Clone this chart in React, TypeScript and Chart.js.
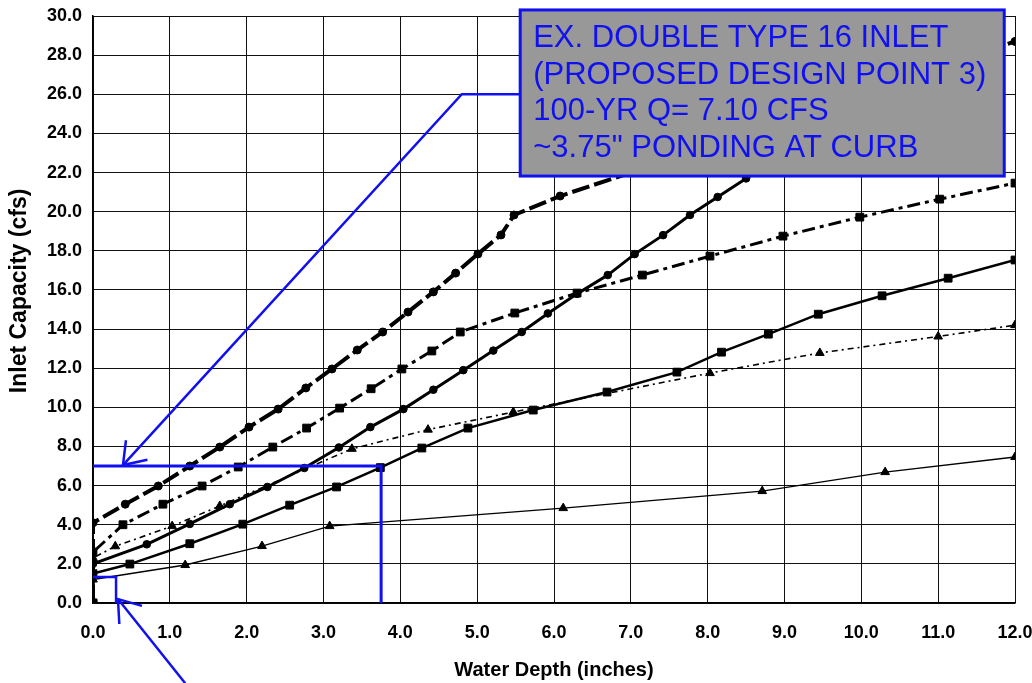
import { useEffect, useRef } from 'react';
import { Chart, registerables } from 'chart.js';

Chart.register(...registerables);

// ---------- data (water depth in inches, inlet capacity in cfs) ----------
const depthA = [0, 0, 0.42, 0.85, 1.26, 1.65, 2.03, 2.41, 2.77, 3.11, 3.44, 3.77, 4.1, 4.43, 4.72, 5.01, 5.31, 5.48, 6.08, 7.0, 8.0, 9.0, 10.0, 11.0, 12.0];
const capA = [0, 4.1, 5.05, 5.98, 7.0, 7.97, 8.99, 9.91, 10.99, 11.96, 12.93, 13.85, 14.87, 15.9, 16.86, 17.84, 18.81, 19.83, 20.8, 22.0, 23.35, 24.7, 26.0, 27.35, 28.7];

const depthB = [0, 0, 0.7, 1.26, 1.78, 2.27, 2.75, 3.2, 3.61, 4.04, 4.43, 4.82, 5.21, 5.58, 5.92, 6.3, 6.7, 7.05, 7.42, 7.77, 8.13, 8.5, 9.0, 9.5, 10.0, 10.5, 11.0, 11.5, 11.8];
const capB = [0, 2.0, 3.0, 4.04, 5.05, 5.93, 6.9, 7.95, 8.99, 9.91, 10.9, 11.9, 12.9, 13.85, 14.8, 15.8, 16.76, 17.83, 18.8, 19.83, 20.75, 21.7, 22.9, 24.1, 25.3, 26.5, 27.8, 29.1, 29.9];

const depthC = [0, 0, 0.39, 0.91, 1.42, 1.89, 2.34, 2.78, 3.21, 3.62, 4.02, 4.41, 4.78, 5.49, 6.3, 7.15, 8.03, 8.98, 9.98, 11.02, 12.0];
const capC = [0, 2.6, 4.0, 5.05, 5.98, 6.95, 7.97, 8.94, 9.96, 10.95, 11.96, 12.88, 13.85, 14.82, 15.84, 16.76, 17.73, 18.75, 19.72, 20.64, 21.46];

const depthD = [0, 0, 0.29, 1.03, 1.65, 3.37, 4.36, 5.47, 8.03, 9.46, 11.0, 12.0];
const capD = [0, 2.3, 2.9, 3.93, 4.96, 7.88, 8.86, 9.76, 11.75, 12.78, 13.62, 14.2];

const depthE = [0, 0, 0.48, 1.26, 1.95, 2.56, 3.17, 3.74, 4.28, 4.88, 5.73, 6.69, 7.6, 8.18, 8.79, 9.44, 10.27, 11.13, 12.0];
const capE = [0, 1.5, 1.99, 3.03, 4.03, 5.0, 5.93, 6.92, 7.92, 8.94, 9.86, 10.78, 11.8, 12.82, 13.74, 14.76, 15.7, 16.6, 17.53];

const depthF = [0, 0, 1.2, 2.2, 3.08, 6.12, 8.71, 10.31, 12.0];
const capF = [0, 1.2, 1.94, 2.91, 3.93, 4.85, 5.72, 6.69, 7.46];

const xTickValues = [0, 1, 2, 3, 4, 5, 6, 7, 8, 9, 10, 11, 12];
const yTickValues = [0, 2, 4, 6, 8, 10, 12, 14, 16, 18, 20, 22, 24, 26, 28, 30];

const xTitle = 'Water Depth (inches)';
const yTitle = 'Inlet Capacity (cfs)';

// ---------- annotation (data coordinates) ----------
const designDepth = 3.75;
const designFlow = 7.0;
const smallDepth = 0.3;
const smallFlow = 1.33;
const noteLines = ['EX. DOUBLE TYPE 16 INLET', '(PROPOSED DESIGN POINT 3)', '100-YR Q= 7.10 CFS', '~3.75" PONDING AT CURB'];
const noteBoxX = [5.56, 11.86];
const noteBoxY = [21.82, 30.31];
const arrow1X = [5.56, 4.8, 0.39];
const arrow1Y = [26.0, 26.0, 7.05];
const arrow2X = [1.2, 0.325];
const arrow2Y = [-4.1, 0.2];
const yTitleCentre = 15.95;

const BLUE = '#1010F0';
const FONT = "'Liberation Sans', Arial, sans-serif";

const pts = (xs: number[], ys: number[]) => xs.map((x, i) => ({ x, y: ys[i] }));

const annotationPlugin = {
  id: 'annot',
  afterDatasetsDraw(chart: any) {
    const { ctx, scales } = chart;
    const sx = scales.x;
    const sy = scales.y;
    const px = (v: number) => sx.getPixelForValue(v);
    const py = (v: number) => sy.getPixelForValue(v);
    ctx.save();

    // y axis title
    ctx.save();
    ctx.translate(20, py(yTitleCentre));
    ctx.rotate(-Math.PI / 2);
    ctx.fillStyle = '#000';
    ctx.font = `bold 23px ${FONT}`;
    ctx.textAlign = 'center';
    ctx.textBaseline = 'middle';
    ctx.fillText(yTitle, 0, 0);
    ctx.restore();

    ctx.strokeStyle = BLUE;
    ctx.lineCap = 'butt';
    ctx.lineJoin = 'miter';

    // design point lines
    ctx.lineWidth = 3;
    ctx.beginPath();
    ctx.moveTo(px(0), py(designFlow));
    ctx.lineTo(px(designDepth), py(designFlow));
    ctx.lineTo(px(designDepth), py(0));
    ctx.stroke();

    // small bracket near origin
    ctx.lineWidth = 2.5;
    ctx.beginPath();
    ctx.moveTo(px(0), py(smallFlow));
    ctx.lineTo(px(smallDepth), py(smallFlow));
    ctx.lineTo(px(smallDepth), py(0));
    ctx.stroke();

    const drawArrow = (xs: number[], ys: number[]) => {
      ctx.lineWidth = 2.5;
      ctx.beginPath();
      ctx.moveTo(px(xs[0]), py(ys[0]));
      for (let i = 1; i < xs.length; i++) ctx.lineTo(px(xs[i]), py(ys[i]));
      ctx.stroke();
      const n = xs.length;
      const tx = px(xs[n - 1]);
      const ty = py(ys[n - 1]);
      const ang = Math.atan2(py(ys[n - 2]) - ty, px(xs[n - 2]) - tx);
      const L = 25;
      const spread = 0.62;
      ctx.beginPath();
      ctx.moveTo(tx + L * Math.cos(ang + spread), ty + L * Math.sin(ang + spread));
      ctx.lineTo(tx, ty);
      ctx.lineTo(tx + L * Math.cos(ang - spread), ty + L * Math.sin(ang - spread));
      ctx.stroke();
    };
    drawArrow(arrow1X, arrow1Y);
    drawArrow(arrow2X, arrow2Y);

    // note box
    const bx0 = px(noteBoxX[0]);
    const bx1 = px(noteBoxX[1]);
    const by0 = py(noteBoxY[1]);
    const by1 = py(noteBoxY[0]);
    ctx.fillStyle = '#989898';
    ctx.fillRect(bx0, by0, bx1 - bx0, by1 - by0);
    ctx.lineWidth = 3;
    ctx.strokeRect(bx0, by0, bx1 - bx0, by1 - by0);
    ctx.fillStyle = BLUE;
    ctx.font = `31px ${FONT}`;
    ctx.textAlign = 'left';
    ctx.textBaseline = 'alphabetic';
    noteLines.forEach((t, i) => {
      ctx.fillText(t, bx0 + 13, by0 + 37 + i * 36.7);
    });
    ctx.restore();
  },
};

export default function App() {
  const ref = useRef<HTMLCanvasElement | null>(null);

  useEffect(() => {
    document.body.style.margin = '0';
    const canvas = ref.current;
    if (!canvas) return;
    Chart.defaults.font.family = FONT;
    const common = {
      borderColor: '#000',
      backgroundColor: '#000',
      pointBackgroundColor: '#000',
      pointBorderColor: '#000',
      pointBorderWidth: 1,
      fill: false,
      tension: 0,
    };
    const chart = new Chart(canvas, {
      type: 'line',
      data: {
        datasets: [
          { ...common, data: pts(depthA, capA), borderWidth: 4, borderDash: [18, 5], pointStyle: 'circle', pointRadius: 4 },
          { ...common, data: pts(depthB, capB), borderWidth: 3, pointStyle: 'circle', pointRadius: 3.8 },
          { ...common, data: pts(depthC, capC), borderWidth: 3, borderDash: [13, 5, 4, 5], pointStyle: 'rect', pointRadius: 5.5 },
          { ...common, data: pts(depthD, capD), borderWidth: 1.6, borderDash: [6, 4, 2, 4], pointStyle: 'triangle', pointRadius: 5 },
          { ...common, data: pts(depthE, capE), borderWidth: 2.5, pointStyle: 'rect', pointRadius: 5.5 },
          { ...common, data: pts(depthF, capF), borderWidth: 1.4, pointStyle: 'triangle', pointRadius: 5 },
        ],
      },
      plugins: [annotationPlugin],
      options: {
        animation: false,
        responsive: false,
        maintainAspectRatio: false,
        layout: { padding: { left: 0, right: 17, top: 16, bottom: 0 } },
        plugins: { legend: { display: false }, tooltip: { enabled: false } },
        scales: {
          x: {
            type: 'linear',
            min: 0,
            max: 12,
            afterBuildTicks: (s: any) => { s.ticks = xTickValues.map((v) => ({ value: v })); },
            afterFit: (s: any) => { s.height = 80; s.paddingLeft = 0; s.paddingRight = 0; },
            ticks: {
              color: '#000',
              font: { size: 18, weight: 'bold' },
              padding: 19,
              maxRotation: 0,
              autoSkip: false,
              callback: (v: any) => Number(v).toFixed(1),
            },
            grid: { color: '#111', lineWidth: 1, drawTicks: false },
            border: { color: '#000', width: 1.5 },
            title: {
              display: true,
              text: xTitle,
              color: '#000',
              font: { size: 20, weight: 'bold' },
              padding: { top: 0, bottom: 1 },
            },
          },
          y: {
            type: 'linear',
            min: 0,
            max: 30,
            afterBuildTicks: (s: any) => { s.ticks = yTickValues.map((v) => ({ value: v })); },
            afterFit: (s: any) => { s.width = 93; s.paddingTop = 0; s.paddingBottom = 0; },
            ticks: {
              color: '#000',
              font: { size: 18, weight: 'bold' },
              padding: 11,
              autoSkip: false,
              callback: (v: any) => Number(v).toFixed(1),
            },
            grid: { color: '#111', lineWidth: 1, drawTicks: false },
            border: { color: '#000', width: 1.5 },
            title: { display: false },
          },
        },
      },
    } as any);
    return () => chart.destroy();
  }, []);

  return (
    <div style={{ position: 'fixed', left: 0, top: 0, width: 1032, height: 683, background: '#fff' }}>
      <canvas ref={ref} width={1032} height={683} style={{ display: 'block', width: 1032, height: 683 }} />
    </div>
  );
}
